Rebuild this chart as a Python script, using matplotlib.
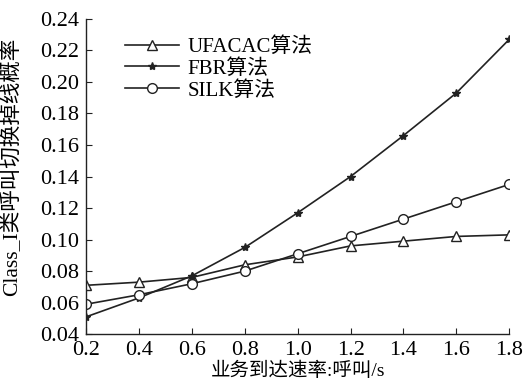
import matplotlib
matplotlib.use("Agg")
import matplotlib.pyplot as plt

x = [0.2, 0.4, 0.6, 0.8, 1.0, 1.2, 1.4, 1.6, 1.8]
ufacac = [0.071, 0.073, 0.076, 0.084, 0.089, 0.096, 0.099, 0.102, 0.103]
fbr = [0.051, 0.063, 0.077, 0.095, 0.117, 0.140, 0.166, 0.193, 0.227]
silk = [0.059, 0.065, 0.072, 0.080, 0.091, 0.102, 0.113, 0.124, 0.135]
labels = ["UFACAC算法", "FBR算法", "SILK算法"]
xticks = [0.2, 0.4, 0.6, 0.8, 1.0, 1.2, 1.4, 1.6, 1.8]
yticks = [0.04, 0.06, 0.08, 0.10, 0.12, 0.14, 0.16, 0.18, 0.20, 0.22, 0.24]

plt.rcParams['font.family'] = ['Liberation Serif', 'Noto Sans CJK SC']

fig = plt.figure(figsize=(5.25, 3.85), dpi=100)
ax = fig.add_axes([0.164, 0.132, 0.806, 0.819])
c = '#222222'
ax.plot(x, ufacac, '-', color=c, lw=1.2, marker='^', ms=7.5, mfc='white', mec=c, mew=1.0, label=labels[0])
ax.plot(x, fbr, '-', color=c, lw=1.2, marker='*', ms=6, mfc=c, mec=c, label=labels[1])
ax.plot(x, silk, '-', color=c, lw=1.2, marker='o', ms=7, mfc='white', mec=c, mew=1.0, label=labels[2])

ax.set_xlim(0.2, 1.8)
ax.set_ylim(0.04, 0.24)
ax.set_xticks(xticks)
ax.set_xticklabels([f"{v:.1f}" for v in xticks])
ax.set_yticks(yticks)
ax.set_yticklabels([f"{v:.2f}" for v in yticks])
for s in ['top', 'right']:
    ax.spines[s].set_visible(False)
for s in ['left', 'bottom']:
    ax.spines[s].set_color(c)
    ax.spines[s].set_linewidth(1.0)
ax.tick_params(direction='in', length=4, colors=c, labelcolor='black', labelsize=16)
ax.tick_params(axis='x', pad=5)
ax.tick_params(axis='y', pad=5)
ax.set_xlabel("业务到达速率:呼叫/s", fontsize=14, labelpad=1)
ax.set_ylabel("Class_I类呼叫切换掉线概率", fontsize=15.5)
ax.yaxis.set_label_coords(-0.151, 0.53)
ax.legend(loc='upper left', bbox_to_anchor=(0.072, 0.968), frameon=False, fontsize=15,
          handlelength=2.6, labelspacing=0.1, handletextpad=0.4, borderaxespad=0)
fig.savefig("out.png", dpi=100)
